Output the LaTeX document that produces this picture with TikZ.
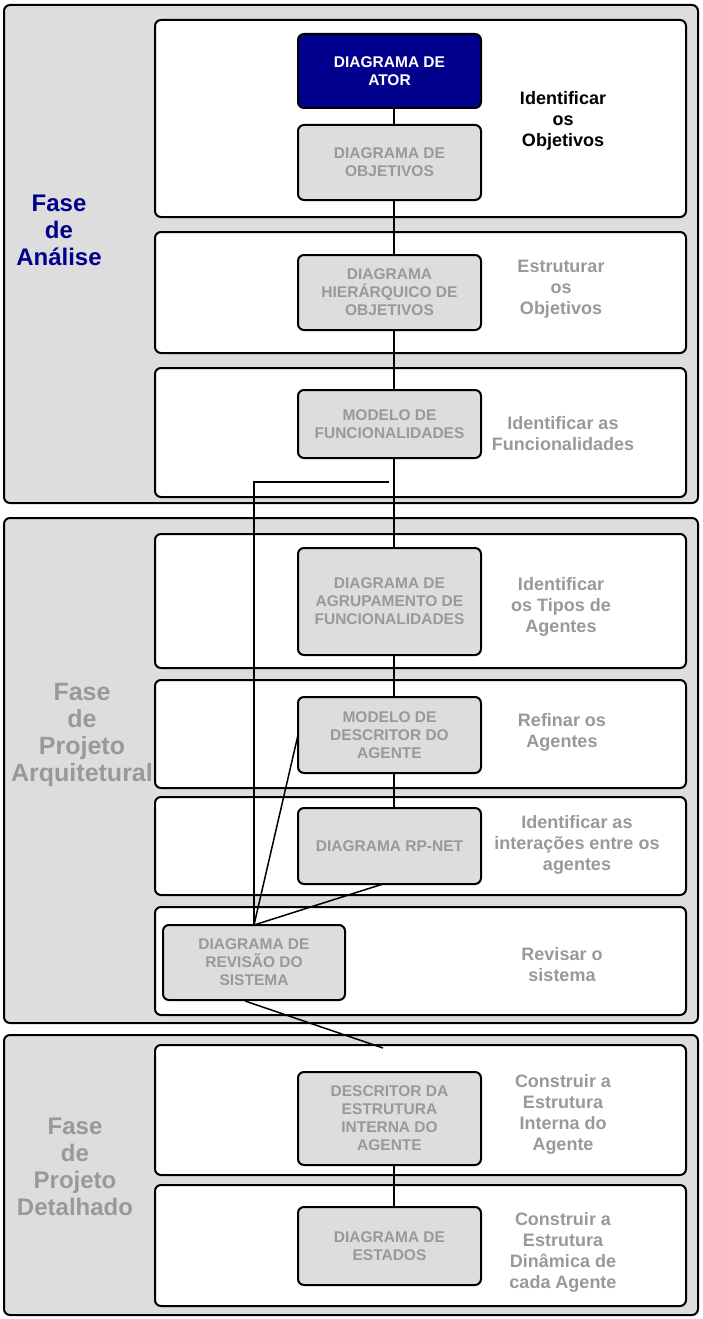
\documentclass[tikz,border=0pt]{standalone}
\usepackage{fontspec}
\setmainfont{Liberation Sans}
\definecolor{boxgray}{HTML}{DDDDDD}
\definecolor{txtgray}{HTML}{999999}
\definecolor{navyblue}{HTML}{00008C}
\begin{document}
\begin{tikzpicture}[x=1pt,y=-1pt,
  phase/.style={draw=black, fill=boxgray, line width=2pt, rounded corners=6pt, inner sep=0pt},
  stage/.style={draw=black, fill=white, line width=2pt, rounded corners=6pt, inner sep=0pt, minimum width=531},
  diag/.style={draw=black, fill=boxgray, line width=2pt, rounded corners=6pt, inner sep=0pt, minimum width=183,
    text=txtgray, font=\fontsize{15.5}{18}\selectfont\bfseries, align=center},
  lbl/.style={text=txtgray, font=\fontsize{18}{21}\selectfont\bfseries, align=center, inner sep=0pt},
  plbl/.style={text=txtgray, font=\fontsize{24}{27}\selectfont\bfseries, align=center, inner sep=0pt},
  conn/.style={draw=black, line width=1.5pt},
  vconn/.style={draw=black, line width=1.5pt}
]
\useasboundingbox (0,0) rectangle (702,1319);
% phases
\node[phase, minimum width=694, minimum height=498] (p1) at (351,254) {};
\node[phase, minimum width=694, minimum height=505] (p2) at (351,770.5) {};
\node[phase, minimum width=694, minimum height=280] (p3) at (351,1175) {};
% stages
\node[stage, minimum height=197] (s1) at (420.5,118.5) {};
\node[stage, minimum height=121] (s2) at (420.5,292.5) {};
\node[stage, minimum height=129] (s3) at (420.5,432.5) {};
\node[stage, minimum height=134] (s4) at (420.5,601) {};
\node[stage, minimum height=108] (s5) at (420.5,734) {};
\node[stage, minimum height=98] (s6) at (420.5,846) {};
\node[stage, minimum height=108] (s7) at (420.5,961) {};
\node[stage, minimum height=130] (s8) at (420.5,1110) {};
\node[stage, minimum height=121] (s9) at (420.5,1245.5) {};
% connectors (drawn under diagram boxes)
\coordinate (fk) at (389,482);
\coordinate (ci) at (383,1048);
\coordinate (revtop) at (254,925);
\draw[conn] (fk) -| (revtop);
\draw[conn] (298,735) -- (revtop);
\draw[conn] (383,884) -- (revtop);
\draw[conn] (245,1001) -- (ci);
% diagram boxes
\node[diag, fill=navyblue, text=white, minimum height=74] (atr) at (389.5,71) {DIAGRAMA DE\\ATOR};
\node[diag, minimum height=75] (obj) at (389.5,162.5) {DIAGRAMA DE\\OBJETIVOS};
\node[diag, minimum height=75] (hie) at (389.5,292.5) {DIAGRAMA\\HIERÁRQUICO DE\\OBJETIVOS};
\node[diag, minimum height=68] (fun) at (389.5,424) {MODELO DE\\FUNCIONALIDADES};
\node[diag, minimum height=107] (agr) at (389.5,601.5) {DIAGRAMA DE\\AGRUPAMENTO DE\\FUNCIONALIDADES};
\node[diag, minimum height=76] (des) at (389.5,735) {MODELO DE\\DESCRITOR DO\\AGENTE};
\node[diag, minimum height=76] (rp) at (389.5,846) {DIAGRAMA RP-NET};
\node[diag, minimum width=182, minimum height=75] (rev) at (254,962.5) {DIAGRAMA DE\\REVISÃO DO\\SISTEMA};
\node[diag, minimum height=93] (dei) at (389.5,1118.5) {DESCRITOR DA\\ESTRUTURA\\INTERNA DO\\AGENTE};
\node[diag, minimum height=78] (est) at (389.5,1246) {DIAGRAMA DE\\ESTADOS};
% vertical chain
\draw[vconn] ([xshift=4.5pt]atr.south) -- ([xshift=4.5pt]obj.north);
\draw[vconn] ([xshift=4.5pt]obj.south) -- ([xshift=4.5pt]hie.north);
\draw[vconn] ([xshift=4.5pt]hie.south) -- ([xshift=4.5pt]fun.north);
\draw[vconn] ([xshift=4.5pt]fun.south) -- ([xshift=4.5pt]agr.north);
\draw[vconn] ([xshift=4.5pt]agr.south) -- ([xshift=4.5pt]des.north);
\draw[vconn] ([xshift=4.5pt]des.south) -- ([xshift=4.5pt]rp.north);
\draw[vconn] ([xshift=4.5pt]dei.south) -- ([xshift=4.5pt]est.north);
% right labels
\node[lbl, text=black] (l1) at (563,120.5) {Identificar\\os\\Objetivos};
\node[lbl] (l2) at (561,289) {Estruturar\\os\\Objetivos};
\node[lbl] (l3) at (563,433.5) {Identificar as\\Funcionalidades};
\node[lbl] (l4) at (561,607) {Identificar\\os Tipos de\\Agentes};
\node[lbl] (l5) at (562,732.5) {Refinar os\\Agentes};
\node[lbl] (l6) at (577,844.5) {Identificar as\\interações entre os\\agentes};
\node[lbl] (l7) at (562,964.5) {Revisar o\\sistema};
\node[lbl] (l8) at (563,1114) {Construir a\\Estrutura\\Interna do\\Agente};
\node[lbl] (l9) at (563,1252) {Construir a\\Estrutura\\Dinâmica de\\cada Agente};
% phase labels
\node[plbl, text=navyblue] (f1) at (59,230.5) {Fase\\de\\Análise};
\node[plbl, font=\fontsize{25}{27}\selectfont\bfseries] (f2) at (82,735) {Fase\\de\\Projeto\\Arquitetural};
\node[plbl] (f3) at (75,1167) {Fase\\de\\Projeto\\Detalhado};
\end{tikzpicture}
\end{document}
